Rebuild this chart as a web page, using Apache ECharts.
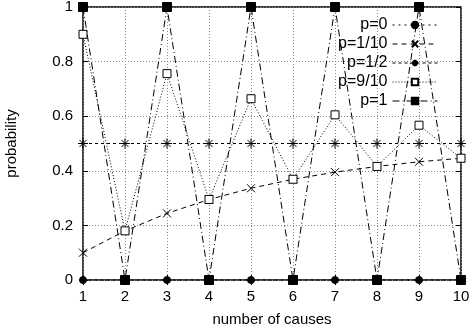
<!DOCTYPE html>
<html><head><meta charset="utf-8">
<script src="https://cdn.jsdelivr.net/npm/echarts@6/dist/echarts.min.js"></script>
<style>html,body{margin:0;padding:0;background:#fff}#c{width:474px;height:335px}</style>
</head><body><div id="c"></div>
<script>
var causes = [1,2,3,4,5,6,7,8,9,10];
var p0   = [0,0,0,0,0,0,0,0,0,0];
var p1_10 = [0.1,0.18,0.244,0.295,0.336,0.369,0.395,0.416,0.433,0.446];
var p1_2 = [0.5,0.5,0.5,0.5,0.5,0.5,0.5,0.5,0.5,0.5];
var p9_10 = [0.9,0.18,0.756,0.295,0.664,0.369,0.605,0.416,0.567,0.446];
var p1   = [1,0,1,0,1,0,1,0,1,0];
var names = ['p=0','p=1/10','p=1/2','p=9/10','p=1'];
var xTicks = [1,2,3,4,5,6,7,8,9,10];
var yTicks = ['0','0.2','0.4','0.6','0.8','1'];

function pairs(v){ return causes.map(function(c,i){return [c,v[i]];}); }
var FONT = 'Liberation Sans, Arial, sans-serif';
var chart = echarts.init(document.getElementById('c'));
function mk(name, data, symbol, size, fill, dash, z){
  return {
    name: name, type: 'line', data: pairs(data), clip: false,
    symbol: symbol, symbolSize: size, showSymbol: true,
    lineStyle: {color: '#000', width: 1, type: dash},
    itemStyle: {color: fill, borderColor: '#000', borderWidth: 1},
    emphasis: {disabled: true}, animation: false, z: z
  };
}
var xMark = 'path://M0,0L10,10M10,0L0,10';
var star = 'path://M5,0L5,10M0,5L10,5M1.5,1.5L8.5,8.5M8.5,1.5L1.5,8.5';
chart.setOption({
  animation: false,
  backgroundColor: '#fff',
  textStyle: {fontFamily: FONT},
  grid: {left: 83, right: 13, top: 7, bottom: 55, outerBoundsMode: 'none', containLabel: false,
    show: true, borderColor: '#000', borderWidth: 1.5, backgroundColor: 'transparent'},
  legend: {
    orient: 'vertical', right: 36, top: 17, padding: 0, align: 'right',
    itemWidth: 45, itemHeight: 8, itemGap: 3,
    lineStyle: {width: 1},
    textStyle: {fontFamily: FONT, fontSize: 16, lineHeight: 12, color: '#000', padding: [0,0,0,0]},
    data: names
  },
  xAxis: [{
    type: 'value', min: 1, max: 10, interval: 1,
    name: 'number of causes', nameLocation: 'middle', nameGap: 32,
    nameTextStyle: {fontFamily: FONT, fontSize: 15, color: '#000'},
    axisLine: {show: false},
    axisTick: {show: true, inside: true, length: 5, lineStyle: {color: '#000'}},
    axisLabel: {margin: 9, fontFamily: FONT, fontSize: 15, color: '#000',
      formatter: function(v){ var i = xTicks.indexOf(v); return i >= 0 ? String(xTicks[i]) : ''; }},
    splitLine: {show: true, lineStyle: {color: '#888', type: [1,2], width: 1}}
  },{
    type: 'value', min: 1, max: 10, interval: 1, position: 'top',
    axisLine: {show: false}, axisLabel: {show: false},
    axisTick: {show: true, inside: true, length: 5, lineStyle: {color: '#000'}},
    splitLine: {show: false}
  }],
  yAxis: [{
    type: 'value', min: 0, max: 1, interval: 0.2,
    name: 'probability', nameLocation: 'middle', nameGap: 64,
    nameTextStyle: {fontFamily: FONT, fontSize: 15, color: '#000'},
    axisLine: {show: false},
    axisTick: {show: true, inside: true, length: 5, lineStyle: {color: '#000'}},
    axisLabel: {margin: 10, fontFamily: FONT, fontSize: 15, color: '#000',
      formatter: function(v){ return yTicks[Math.round(v*5)]; }},
    splitLine: {show: true, lineStyle: {color: '#888', type: [1,2], width: 1}}
  },{
    type: 'value', min: 0, max: 1, interval: 0.2, position: 'right',
    axisLine: {show: false}, axisLabel: {show: false},
    axisTick: {show: true, inside: true, length: 5, lineStyle: {color: '#000'}},
    splitLine: {show: false}
  }],
  series: [
    mk(names[0], p0, 'circle', 7, '#000', [2,4], 10),
    mk(names[1], p1_10, xMark, 8, 'none', [5,4], 11),
    mk(names[2], p1_2, star, 10, 'none', [3,3], 12),
    mk(names[3], p9_10, 'rect', 8, '#fff', [1,2], 13),
    mk(names[4], p1, 'rect', 9, '#000', [7,3,1,3], 14)
  ]
});
</script></body></html>
